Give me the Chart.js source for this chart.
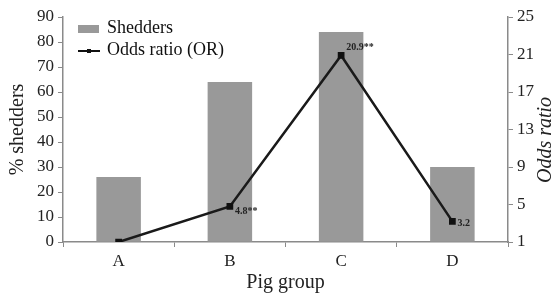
<!DOCTYPE html>
<html>
<head>
<meta charset="utf-8">
<script src="https://cdn.jsdelivr.net/npm/chart.js@4/dist/chart.umd.min.js"></script>
<style>
  html, body { margin: 0; padding: 0; background: #fff; }
  #wrap { width: 557px; height: 299px; }
</style>
</head>
<body>
<div id="wrap"><canvas id="myChart"></canvas></div>
<script>
const pigGroups = ['A', 'B', 'C', 'D'];
const shedders = [26, 64, 84, 30];
const oddsRatio = [1, 4.8, 20.9, 3.2];
const orLabels = ['', '4.8**', '20.9**', '3.2'];

const ctx = document.getElementById('myChart').getContext('2d');
const serif = "'Liberation Serif', 'Times New Roman', serif";
const axisGray = '#8a8a8a';
// vertical nudge of each OR label relative to its point
const labelDy = [0, 5, -8, 2];

// legend inside the plot, right axis title, labels next to the OR points
const extras = {
  id: 'extras',
  afterDatasetsDraw(chart) {
    const c = chart.ctx;
    const area = chart.chartArea;
    c.save();
    const lx = area.left + 15;
    c.fillStyle = '#999999';
    c.fillRect(lx, 25, 21, 8);
    c.fillStyle = '#111';
    c.font = '18px ' + serif;
    c.textBaseline = 'middle';
    c.fillText('Shedders', lx + 29, 28);
    c.strokeStyle = '#111';
    c.lineWidth = 2;
    c.beginPath();
    c.moveTo(lx, 51);
    c.lineTo(lx + 22, 51);
    c.stroke();
    c.fillRect(lx + 9, 49, 4, 4);
    c.fillText('Odds ratio (OR)', lx + 29, 50);

    // right axis title, reading bottom to top
    c.save();
    c.translate(546, 140);
    c.rotate(-Math.PI / 2);
    c.textAlign = 'center';
    c.font = 'italic 20px ' + serif;
    c.fillStyle = '#222';
    c.fillText('Odds ratio', 0, 0);
    c.restore();

    const meta = chart.getDatasetMeta(1);
    c.font = 'bold 10px ' + serif;
    c.fillStyle = '#222';
    meta.data.forEach((pt, i) => {
      if (orLabels[i]) c.fillText(orLabels[i], pt.x + 5, pt.y + labelDy[i]);
    });
    c.restore();
  }
};

new Chart(ctx, {
  type: 'bar',
  data: {
    labels: pigGroups,
    datasets: [{
      label: 'Shedders',
      data: shedders,
      backgroundColor: '#999999',
      barPercentage: 0.4,
      categoryPercentage: 1,
      yAxisID: 'y',
      order: 2
    }, {
      type: 'line',
      label: 'Odds ratio (OR)',
      data: oddsRatio,
      borderColor: '#1a1a1a',
      borderWidth: 2.5,
      pointStyle: 'rect',
      pointRadius: 3,
      pointBackgroundColor: '#111',
      pointBorderColor: '#111',
      yAxisID: 'y1',
      order: 1
    }]
  },
  options: {
    responsive: true,
    maintainAspectRatio: false,
    animation: false,
    layout: { padding: { top: 17 } },
    plugins: {
      legend: { display: false },
      tooltip: { enabled: false }
    },
    scales: {
      x: {
        grid: { drawOnChartArea: false, color: axisGray, tickLength: 5, offset: true },
        border: { color: axisGray, width: 1.5 },
        ticks: { color: '#222', font: { family: serif, size: 17 }, padding: 4 },
        title: { display: true, text: 'Pig group', color: '#222', font: { family: serif, size: 20 }, padding: { top: 2 } },
        afterFit(scale) { scale.height = 57; }
      },
      y: {
        position: 'left',
        min: 0, max: 90,
        ticks: { stepSize: 10, color: '#222', font: { family: serif, size: 17 }, padding: 4 },
        grid: { drawOnChartArea: false, color: axisGray, tickLength: 5 },
        border: { color: axisGray, width: 1.5 },
        title: { display: true, text: '% shedders', color: '#222', font: { family: serif, size: 20 }, padding: { top: 6, bottom: 0 } },
        afterFit(scale) { scale.width = 63; }
      },
      y1: {
        position: 'right',
        min: 1, max: 25,
        ticks: { stepSize: 4, color: '#222', font: { family: serif, size: 17 }, padding: 4 },
        grid: { drawOnChartArea: false, color: axisGray, tickLength: 5 },
        border: { color: axisGray, width: 1.5 },
        afterFit(scale) { scale.width = 49; }
      }
    }
  },
  plugins: [extras]
});
</script>
</body>
</html>
